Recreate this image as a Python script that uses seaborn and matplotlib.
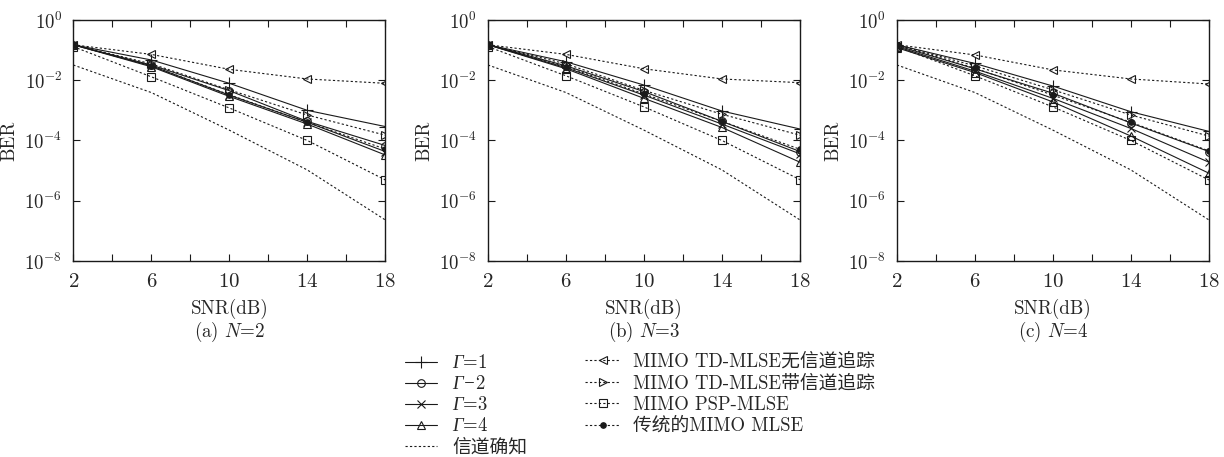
import numpy as np
import pandas as pd
import seaborn as sns
import matplotlib.pyplot as plt
from matplotlib.ticker import FixedLocator, NullLocator


snr = [2, 6, 10, 14, 18]

labels = [r'$\Gamma$=1', r'$\Gamma$$-$2', r'$\Gamma$=3',
          r'$\Gamma$=4', '信道确知',
          'MIMO TD-MLSE无信道追踪', 'MIMO TD-MLSE带信道追踪',
          'MIMO PSP-MLSE', '传统的MIMO MLSE']

# BER curves, one list per curve, per panel
# (a) N=2
ber_a = {
    'g1':    [0.15, 0.047, 7.9e-3, 1.0e-3, 2.9e-4],
    'g2':    [0.15, 0.032, 4.5e-3, 4.3e-4, 6.8e-5],
    'g3':    [0.15, 0.030, 3.2e-3, 4.0e-4, 4.3e-5],
    'g4':    [0.15, 0.028, 2.9e-3, 3.5e-4, 3.3e-5],
    'known': [0.032, 3.9e-3, 2.2e-4, 1.05e-5, 2.3e-7],
    'td_no': [0.15, 0.072, 0.023, 0.011, 7.9e-3],
    'td_tr': [0.15, 0.035, 4.8e-3, 7.0e-4, 1.5e-4],
    'psp':   [0.13, 0.013, 1.2e-3, 1.0e-4, 4.9e-6],
    'conv':  [0.15, 0.030, 3.3e-3, 4.0e-4, 5.2e-5],
}
# (b) N=3
ber_b = {
    'g1':    [0.15, 0.041, 6.9e-3, 9.5e-4, 2.4e-4],
    'g2':    [0.15, 0.030, 4.2e-3, 4.3e-4, 4.3e-5],
    'g3':    [0.15, 0.026, 3.2e-3, 3.5e-4, 3.6e-5],
    'g4':    [0.15, 0.024, 2.5e-3, 2.7e-4, 1.9e-5],
    'known': [0.032, 3.9e-3, 2.2e-4, 1.05e-5, 2.3e-7],
    'td_no': [0.15, 0.072, 0.024, 0.011, 8.3e-3],
    'td_tr': [0.15, 0.035, 4.6e-3, 7.4e-4, 1.5e-4],
    'psp':   [0.13, 0.014, 1.3e-3, 1.0e-4, 5.0e-6],
    'conv':  [0.15, 0.028, 3.5e-3, 4.3e-4, 5.1e-5],
}
# (c) N=4
ber_c = {
    'g1':    [0.15, 0.036, 6.4e-3, 9.0e-4, 2.0e-4],
    'g2':    [0.14, 0.024, 3.7e-3, 3.8e-4, 4.3e-5],
    'g3':    [0.13, 0.020, 2.5e-3, 2.5e-4, 1.9e-5],
    'g4':    [0.12, 0.018, 1.9e-3, 1.4e-4, 8.2e-6],
    'known': [0.032, 3.9e-3, 2.2e-4, 1.05e-5, 2.3e-7],
    'td_no': [0.15, 0.069, 0.022, 0.011, 7.5e-3],
    'td_tr': [0.15, 0.030, 4.8e-3, 7.0e-4, 1.4e-4],
    'psp':   [0.13, 0.014, 1.3e-3, 1.0e-4, 4.9e-6],
    'conv':  [0.15, 0.025, 3.2e-3, 4.0e-4, 4.5e-5],
}

captions = [r'(a) $N$=2', r'(b) $N$=3', r'(c) $N$=4']

keys = ['g1', 'g2', 'g3', 'g4', 'known', 'td_no', 'td_tr', 'psp', 'conv']
dots = (0, (2, 2))
styles = {
    'g1':    dict(ls='-', marker='+', ms=8),
    'g2':    dict(ls='-', marker='o', ms=5.5),
    'g3':    dict(ls='-', marker='x', ms=5.5),
    'g4':    dict(ls='-', marker='^', ms=5.5),
    'known': dict(ls=dots, marker=None, ms=0),
    'td_no': dict(ls=dots, marker='<', ms=5.5),
    'td_tr': dict(ls=dots, marker='>', ms=5.5),
    'psp':   dict(ls=dots, marker='s', ms=5.5),
    'conv':  dict(ls=dots, marker='o', ms=4),
}

sns.set_theme(style='ticks')
plt.rcParams['font.family'] = ['cmr10', 'Noto Sans CJK SC']
plt.rcParams['mathtext.fontset'] = 'cm'
plt.rcParams['axes.formatter.use_mathtext'] = True
plt.rcParams['axes.unicode_minus'] = False
# italic Gamma for the legend (used through a per-text 'custom' math font)
plt.rcParams['mathtext.rm'] = 'Liberation Serif:italic'
plt.rcParams['mathtext.it'] = 'Liberation Serif:italic'

fig = plt.figure(figsize=(12.24, 4.57), dpi=100)
lefts = [0.0599, 0.3987, 0.7328]
axes = [fig.add_axes([l, 0.4289, 0.2549, 0.5274]) for l in lefts]

for ax, data, cap in zip(axes, [ber_a, ber_b, ber_c], captions):
    for k, lab in zip(keys, labels):
        st = styles[k]
        fill = 'k' if k == 'conv' else 'none'
        sns.lineplot(x=snr, y=data[k], ax=ax, color='k', lw=0.8,
                     linestyle=st['ls'], marker=st['marker'], markersize=st['ms'],
                     markerfacecolor=fill, markeredgecolor='k', markeredgewidth=0.8,
                     label=lab, legend=False)
    ax.set_yscale('log')
    ax.set_xlim(2, 18)
    ax.set_ylim(1e-8, 1)
    ax.xaxis.set_major_locator(FixedLocator([2, 6, 10, 14, 18]))
    ax.xaxis.set_minor_locator(FixedLocator([4, 8, 12, 16]))
    ax.yaxis.set_major_locator(FixedLocator([10.0 ** e for e in range(-8, 1, 2)]))
    ax.yaxis.set_minor_locator(NullLocator())
    ax.tick_params(which='both', direction='in', top=True, right=True,
                   color='k', width=0.8, length=5)
    ax.tick_params(axis='x', labelsize=15, pad=9)
    ax.tick_params(axis='y', labelsize=13.5, pad=8)
    for s in ax.spines.values():
        s.set_linewidth(1.0)
        s.set_color('k')
    ax.set_xlabel('SNR(dB)', fontsize=13.7, labelpad=5)
    ax.set_ylabel('BER', fontsize=13.7, labelpad=4)
    ax.text(0.5, -0.245, cap, transform=ax.transAxes, ha='center', va='top', fontsize=13.7)

handles, labs = axes[0].get_legend_handles_labels()
leg1 = fig.legend(handles[:5], labs[:5], loc='upper left', bbox_to_anchor=(0.3309, 0.225),
                  frameon=False, fontsize=13.5, handlelength=1.7, handletextpad=0.8,
                  labelspacing=0.16, borderaxespad=0, borderpad=0)
fig.legend(handles[5:], labs[5:], loc='upper left', bbox_to_anchor=(0.478, 0.228),
           frameon=False, fontsize=13.5, handlelength=1.87, handletextpad=0.7,
           labelspacing=0.19, borderaxespad=0, borderpad=0)
for t in leg1.get_texts()[:4]:
    t.set_math_fontfamily('custom')

fig.savefig('out.png', dpi=100, facecolor='white')
